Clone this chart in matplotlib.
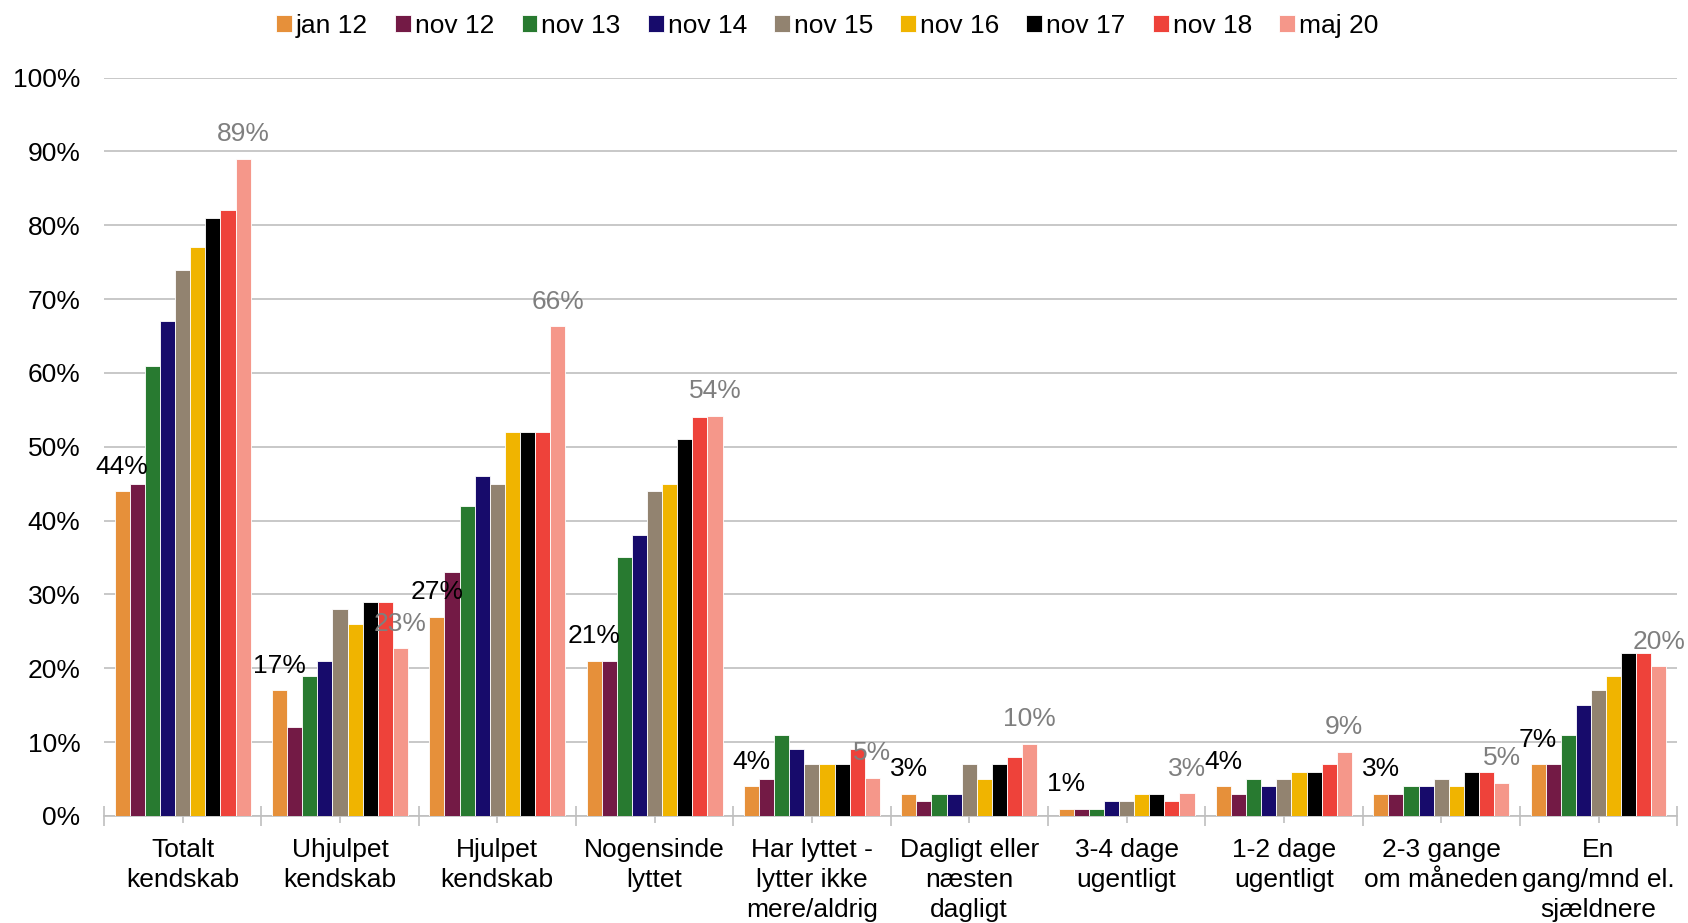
import matplotlib
matplotlib.use('Agg')
import matplotlib.pyplot as plt
import numpy as np

plt.rcParams['font.family'] = ['Liberation Sans', 'DejaVu Sans']

categories = ['Totalt\nkendskab', 'Uhjulpet\nkendskab', 'Hjulpet\nkendskab',
              'Nogensinde\nlyttet', 'Har lyttet -\nlytter ikke\nmere/aldrig',
              'Dagligt eller\nnæsten\ndagligt', '3-4 dage\nugentligt',
              '1-2 dage\nugentligt', '2-3 gange\nom måneden',
              'En\ngang/mnd el.\nsjældnere']
series = ['jan 12', 'nov 12', 'nov 13', 'nov 14', 'nov 15',
          'nov 16', 'nov 17', 'nov 18', 'maj 20']
colors = ['#E6903A', '#731A45', '#287A30', '#170B6B', '#928370',
          '#F0B400', '#000000', '#EE423A', '#F5978A']

jan12 = [44, 17, 27, 21, 4, 3, 1, 4, 3, 7]
nov12 = [45, 12, 33, 21, 5, 2, 1, 3, 3, 7]
nov13 = [61, 19, 42, 35, 11, 3, 1, 5, 4, 11]
nov14 = [67, 21, 46, 38, 9, 3, 2, 4, 4, 15]
nov15 = [74, 28, 45, 44, 7, 7, 2, 5, 5, 17]
nov16 = [77, 26, 52, 45, 7, 5, 3, 6, 4, 19]
nov17 = [81, 29, 52, 51, 7, 7, 3, 6, 6, 22]
nov18 = [82, 29, 52, 54, 9, 8, 2, 7, 6, 22]
maj20 = [89.0, 22.7, 66.3, 54.2, 5.2, 9.8, 3.1, 8.7, 4.5, 20.3]

values = [jan12, nov12, nov13, nov14, nov15, nov16, nov17, nov18, maj20]


def main():
    fig = plt.figure(figsize=(16.88, 9.23), dpi=100)
    ax = fig.add_axes([0.0616, 0.116, 0.932, 0.8])

    x = np.arange(len(categories))
    w = 0.096
    n = len(series)
    for i, (name, vals, c) in enumerate(zip(series, values, colors)):
        pos = x + (i - (n - 1) / 2) * w
        ax.bar(pos, np.array(vals) / 100, w, color=c, label=name,
               edgecolor='white', linewidth=0.6, zorder=3)
        if i == 0 or i == n - 1:
            col = 'black' if i == 0 else '#7F7F7F'
            for p, v in zip(pos, vals):
                # round half up like the source
                ax.annotate('%d%%' % int(v + 0.5), (p, v / 100), xytext=(0, 9),
                            textcoords='offset points', ha='center',
                            va='bottom', fontsize=19, color=col, zorder=4)

    ax.set_ylim(0, 1.0)
    ax.set_xlim(-0.5, len(categories) - 0.5)
    ax.set_yticks(np.arange(0, 1.01, 0.1))
    ax.set_yticklabels(['%d%%' % v for v in range(0, 101, 10)], fontsize=19)
    ax.yaxis.grid(True, color='#BFBFBF', linewidth=1.2, zorder=0)
    ax.tick_params(axis='y', length=0, pad=17)

    ax.set_xticks(x)
    ax.set_xticklabels(categories, fontsize=19, linespacing=1.3)
    ax.set_xticks(np.arange(-0.5, len(categories), 1), minor=True)
    ax.tick_params(axis='x', which='major', direction='inout', length=10,
                   color='#BFBFBF', width=1.2, pad=11)
    ax.tick_params(axis='x', which='minor', direction='inout', length=14,
                   color='#BFBFBF', width=1.2)

    for s in ['top', 'right', 'left']:
        ax.spines[s].set_visible(False)
    ax.spines['bottom'].set_color('#BFBFBF')
    ax.spines['bottom'].set_linewidth(1.2)

    fig.legend(loc='center', bbox_to_anchor=(0.49, 0.972), ncol=9,
               frameon=False, fontsize=19, handlelength=0.6,
               handleheight=0.6, handletextpad=0.15, columnspacing=1.03)

    fig.savefig('out.png', dpi=100)


if __name__ == '__main__':
    main()
